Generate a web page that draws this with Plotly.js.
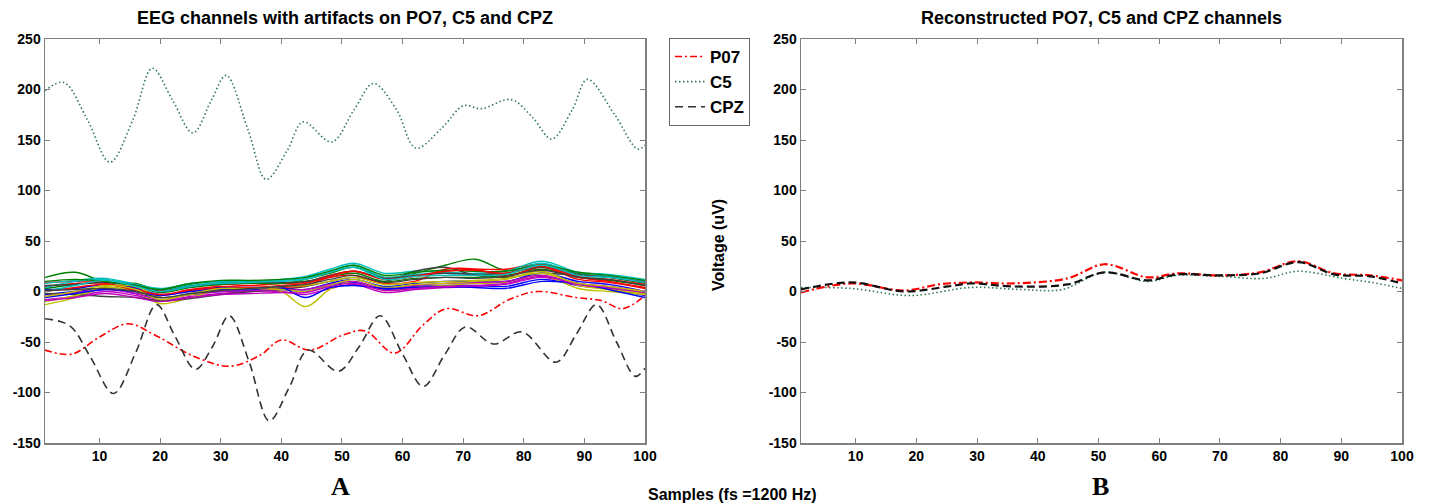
<!DOCTYPE html>
<html>
<head>
<meta charset="utf-8">
<script src="https://cdn.plot.ly/plotly-3.0.1.min.js"></script>
<style>html,body{margin:0;padding:0;background:#fff;}#chart{width:1429px;height:504px;}</style>
</head>
<body>
<div id="chart"></div>
<script>
// ---------- Panel A: artifact channels ----------
const p07X = [1, 5.4, 10, 14.7, 19.4, 25.5, 31.5, 36.5, 40, 44.7, 50.2, 53.8, 58.7, 63.4, 67.2, 72.5, 77.6, 82.3, 88.6, 92.8, 96.3, 100];
const p07Y = [-58, -62, -45, -32, -44, -64, -74, -63, -48, -58, -43, -39, -61, -33, -17, -24, -8, 0, -6, -9, -17, -4];

const c5X = [1, 4.1, 8, 11.7, 15.5, 18.7, 22, 25.4, 28.5, 30.9, 34.5, 37.5, 41, 43.6, 48.3, 52, 55.2, 59, 62.2, 66.5, 70.1, 73, 77.9, 81.5, 84.6, 88, 90.5, 95, 98.8, 100];
const c5Y = [199, 207, 170, 128, 170, 221, 190, 157, 190, 214, 160, 111, 140, 168, 148, 180, 206, 180, 142, 162, 184, 181, 190, 172, 151, 180, 210, 175, 141, 145];

const cpzX = [1, 5.1, 8.5, 12.3, 16, 19.4, 22.5, 25.8, 28.6, 31.4, 34.7, 38, 41.3, 44.4, 49.4, 52.8, 56.3, 60, 63.4, 67, 70.4, 75, 79.7, 85.3, 88.7, 92, 95.3, 98.4, 100];
const cpzY = [-27, -34, -65, -101, -60, -13, -45, -77, -55, -24, -70, -128, -95, -58, -79, -55, -24, -62, -94, -62, -35, -52, -40, -70, -42, -13, -50, -84, -76];

// background EEG channels (sampled at bgX)
const bgX = [1, 6, 11, 16, 20, 25, 30, 35, 40, 44, 48, 52, 57, 62, 67, 72, 77, 83, 89, 94, 100];
const ch01 = [-3, 0, 3, -2, -6, -3, 0, 1, 2, 0, 6, 9, 2, 5, 6, 6, 5, 12, 6, 3, -4];
const ch02 = [14, 19, 9, 8, 1, 7, 10, 9, 8, 12, 18, 24, 14, 18, 26, 32, 21, 27, 18, 14, 8];
const ch03 = [9, 10, 10, 4, 1, 5, 7, 6, 8, 9, 16, 20, 13, 15, 20, 22, 22, 27, 15, 12, 7];
const ch04 = [8, 11, 13, 7, 3, 8, 10, 10, 12, 15, 22, 28, 18, 20, 19, 18, 20, 30, 19, 17, 12];
const ch05 = [-8, -5, 0, -4, -9, -5, -2, 0, 0, -3, 3, 7, -1, 2, 4, 5, 7, 14, 6, 3, -2];
const ch06 = [-13, -6, 4, 0, -12, -6, 2, 3, 0, -15, 2, 10, 1, 4, 6, 8, 9, 16, 3, 0, -3];
const ch07 = [-2, -3, -5, -6, -9, -7, -3, 0, 2, 5, 10, 14, 10, 20, 24, 16, 14, 18, 16, 15, 10];
const ch08 = [2, 3, 7, 3, -3, 1, 4, 4, 3, 2, 8, 12, 5, 8, 10, 10, 10, 18, 10, 7, 0];
const ch09 = [3, 7, 9, 5, -1, 4, 7, 8, 8, 10, 14, 18, 10, 13, 14, 14, 16, 22, 14, 11, 6];
const ch10 = [5, 8, 8, 1, -4, 1, 3, 2, 4, 6, 14, 16, 8, 10, 22, 22, 15, 24, 12, 9, 3];
const ch11 = [4, 10, 12, 6, 2, 6, 9, 9, 11, 13, 20, 26, 14, 17, 18, 17, 18, 28, 17, 15, 11];
const ch12 = [-5, -1, 2, -2, -8, -3, 0, 1, 2, 2, 7, 10, 3, 6, 8, 9, 10, 16, 8, 5, 0];
const ch13 = [-10, -4, 5, 5, -6, -3, 2, 3, 2, 0, 6, 12, 4, 7, 8, 10, 12, 20, 6, 2, -2];
const ch14 = [6, 7, 9, 6, 0, 5, 8, 9, 9, 10, 16, 20, 13, 16, 18, 17, 18, 24, 17, 14, 9];
const ch15 = [-6, -2, 2, 0, -4, 0, 2, 2, 4, -6, 4, 6, 3, 4, 5, 4, 3, 10, 8, 2, -6];
const ch16 = [10, 12, 10, 6, 2, 8, 11, 11, 12, 14, 20, 26, 16, 19, 21, 20, 20, 26, 19, 16, 11];
const ch17 = [0, 4, 7, 2, -3, 2, 5, 4, 6, 8, 15, 20, 12, 15, 20, 21, 18, 25, 14, 10, 4];
const ch18 = [0, 6, 11, 5, 0, 5, 8, 9, 10, 12, 19, 24, 12, 15, 16, 16, 17, 26, 16, 14, 9];
const ch19 = [-9, -6, -2, -6, -10, -6, -3, -2, -1, -1, 5, 8, 1, 3, 5, 6, 8, 15, 7, 4, -1];
const ch20 = [-5, 0, 6, 2, -8, -2, 3, 3, 5, 6, 10, 14, 7, 9, 10, 11, 13, 18, 8, 5, 0];
const ch21 = [1, 2, 3, 0, -6, -2, 1, 3, 5, 7, 12, 16, 9, 12, 14, 13, 15, 21, 14, 12, 6];
const bgChannels = [ch01, ch02, ch03, ch04, ch05, ch06, ch07, ch08, ch09, ch10, ch11, ch12, ch13, ch14, ch15, ch16, ch17, ch18, ch19, ch20, ch21];
const bgColors = ['#0000ff', '#008000', '#ff0000', '#00bfbf', '#bf00bf', '#bfbf00', '#404040'];

// ---------- Panel B: reconstructed channels ----------
const recX_P07 = [1, 9.3, 18, 23.7, 29, 35.8, 44.9, 51, 58.1, 63, 69.8, 76.6, 82.9, 88.8, 94.8, 100];
const recY_P07 = [-1, 8, 1, 7, 9, 8, 13, 27, 14, 18, 16, 19, 30, 18, 16, 11];
const recX_CPZ = [1, 9.3, 18, 25.2, 29, 35.8, 44.9, 51, 58.1, 63, 69.8, 76.6, 82.9, 88.8, 94.8, 100];
const recY_CPZ = [2, 9, 0, 5, 8, 5, 7, 19, 11, 17, 16, 18, 29, 17, 15, 8];
const recX_C5 = [1, 9.3, 19, 29, 37.2, 44, 51, 58, 63, 70, 77.4, 82.8, 90.3, 95, 100];
const recY_C5 = [4, 3, -4, 4, 2, 2, 19, 10, 16, 15, 13, 20, 13, 9, 3];

// ---------- labels ----------
const xTicks = [10, 20, 30, 40, 50, 60, 70, 80, 90, 100];
const yTicks = [-150, -100, -50, 0, 50, 100, 150, 200, 250];
const titleA = 'EEG channels with artifacts on PO7, C5 and CPZ';
const titleB = 'Reconstructed PO7, C5 and CPZ channels';
const xLabel = 'Samples (fs =1200 Hz)';
const yLabel = 'Voltage (uV)';
const legendNames = ['P07', 'C5', 'CPZ'];

const traces = [];
bgChannels.forEach((ch, i) => {
  traces.push({
    x: bgX, y: ch, type: 'scatter', mode: 'lines', xaxis: 'x', yaxis: 'y',
    line: {color: bgColors[i % bgColors.length], width: 1.4, shape: 'spline'},
    showlegend: false, hoverinfo: 'skip'
  });
});
const redC = '#ff0000', greenC = '#2f7a4f', blackC = '#333333';
traces.push({x: p07X, y: p07Y, type: 'scatter', mode: 'lines', name: legendNames[0], xaxis: 'x', yaxis: 'y',
  line: {color: redC, width: 1.6, dash: '7px,3px,2px,3px', shape: 'spline'}});
traces.push({x: c5X, y: c5Y, type: 'scatter', mode: 'lines', name: legendNames[1], xaxis: 'x', yaxis: 'y',
  line: {color: greenC, width: 1.6, dash: '1.5px,2.5px', shape: 'spline'}});
traces.push({x: cpzX, y: cpzY, type: 'scatter', mode: 'lines', name: legendNames[2], xaxis: 'x', yaxis: 'y',
  line: {color: blackC, width: 1.6, dash: '8px,5px', shape: 'spline'}});

traces.push({x: recX_C5, y: recY_C5, type: 'scatter', mode: 'lines', xaxis: 'x2', yaxis: 'y2', showlegend: false,
  line: {color: greenC, width: 1.6, dash: '1.5px,2.5px', shape: 'spline'}});
traces.push({x: recX_P07, y: recY_P07, type: 'scatter', mode: 'lines', xaxis: 'x2', yaxis: 'y2', showlegend: false,
  line: {color: redC, width: 2.2, dash: '8px,3px,2px,3px', shape: 'spline'}});
traces.push({x: recX_CPZ, y: recY_CPZ, type: 'scatter', mode: 'lines', xaxis: 'x2', yaxis: 'y2', showlegend: false,
  line: {color: '#111111', width: 2.2, dash: '8px,4px', shape: 'spline'}});

const W = 1429, H = 504;
const sans = 'Liberation Sans, Arial, sans-serif';
const serif = 'Liberation Serif, Times New Roman, serif';
const tickFont = {family: sans, size: 14, color: '#000', weight: 'bold'};
function xax(domain) {
  return {domain: domain, range: [1, 100], tickvals: xTicks, ticktext: xTicks.map(String),
    ticks: 'inside', ticklen: 5, tickcolor: '#808080', tickwidth: 1,
    showline: true, linecolor: '#808080', linewidth: 1.5, mirror: 'ticks',
    showgrid: false, zeroline: false, tickfont: tickFont, fixedrange: true};
}
function yax(anchor) {
  return {domain: [(H - 443) / H, (H - 39) / H], range: [-150, 250], tickvals: yTicks, ticktext: yTicks.map(String),
    ticks: 'inside', ticklen: 5, tickcolor: '#808080', tickwidth: 1,
    showline: true, linecolor: '#808080', linewidth: 1.5, mirror: 'ticks', anchor: anchor,
    showgrid: false, zeroline: false, tickfont: tickFont, fixedrange: true};
}
function label(text, px, py, font, extra) {
  return Object.assign({text: text, x: px / W, y: (H - py) / H, xref: 'paper', yref: 'paper',
    xanchor: 'center', yanchor: 'middle', showarrow: false, font: font}, extra || {});
}
const layout = {
  width: W, height: H, margin: {l: 0, r: 0, t: 0, b: 0},
  paper_bgcolor: '#fff', plot_bgcolor: '#fff',
  xaxis: Object.assign(xax([45 / W, 645 / W]), {anchor: 'y'}),
  yaxis: yax('x'),
  xaxis2: Object.assign(xax([801 / W, 1402 / W]), {anchor: 'y2'}),
  yaxis2: yax('x2'),
  showlegend: true,
  legend: {x: 669 / W, y: (H - 38) / H, xanchor: 'left', yanchor: 'top',
    bgcolor: '#fff', bordercolor: '#666', borderwidth: 1,
    font: {family: sans, size: 17, color: '#000', weight: 'bold'},
    itemwidth: 30, tracegroupgap: 0},
  annotations: [
    label(titleA, 345, 18, {family: sans, size: 18, color: '#000', weight: 'bold'}),
    label(titleB, 1101, 18, {family: sans, size: 18, color: '#000', weight: 'bold'}),
    label(yLabel, 718, 245, {family: sans, size: 16, color: '#000', weight: 'bold'}, {textangle: -90}),
    label(xLabel, 732, 494, {family: sans, size: 16, color: '#000', weight: 'bold'}),
    label('A', 340, 486, {family: serif, size: 26, color: '#000', weight: 'bold'}),
    label('B', 1100, 486, {family: serif, size: 26, color: '#000', weight: 'bold'})
  ]
};
Plotly.newPlot('chart', traces, layout, {staticPlot: true, displayModeBar: false});
</script>
</body>
</html>
